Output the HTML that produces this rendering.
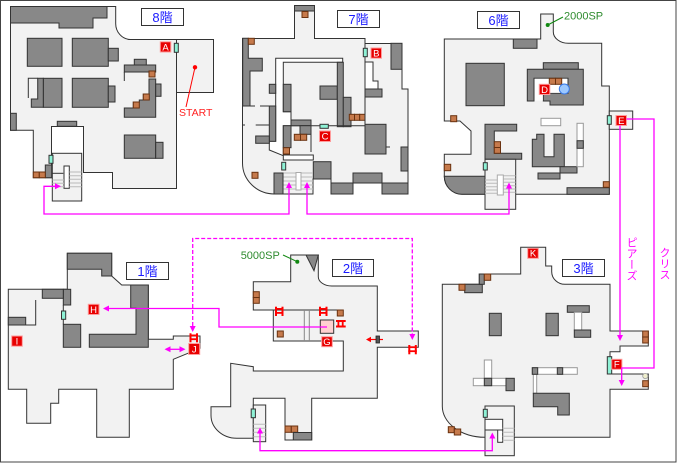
<!DOCTYPE html>
<html><head><meta charset="utf-8"><style>
html,body{margin:0;padding:0;background:#fff;}
#wrap{position:relative;width:679px;height:463px;overflow:hidden;}
svg{position:absolute;left:0;top:0;}
.f{fill:#f2f2f2;stroke:#333;stroke-width:1}
.g{fill:#888;stroke:#333;stroke-width:1}
.b{fill:#c67a4c;stroke:#6a3210;stroke-width:1}
.t{fill:#8ff2d6;stroke:#333;stroke-width:1}
.w{fill:#fff;stroke:#333;stroke-width:1}
.lw{fill:#fff;stroke:#999;stroke-width:1}
.s{stroke:#bbb;stroke-width:1;fill:none}
.m{stroke:#f0f;stroke-width:1.3;fill:none}
.md{stroke:#f0f;stroke-width:1.3;fill:none;stroke-dasharray:4 2}
.ma{fill:#f0f}
.lb{fill:#e80000;stroke:#ff9c9c;stroke-width:1}
.lt{fill:#fff;font:9.5px "Liberation Sans",sans-serif;text-anchor:middle}
.fl{fill:#fff;stroke:#333;stroke-width:1}
.ft{fill:#1a1aff;font:13px "Liberation Sans","Noto Sans CJK JP",sans-serif;text-anchor:middle}
.ln{stroke:#333;stroke-width:1;fill:none}
.rd{fill:#f00}
.vt{position:absolute;writing-mode:vertical-rl;color:#f0f;font:11px "Liberation Sans","Noto Sans CJK JP",sans-serif;line-height:12px;}
</style></head><body><div id="wrap">
<svg width="679" height="463" viewBox="0 0 679 463" xmlns="http://www.w3.org/2000/svg">
<rect x="0.5" y="0.5" width="675.5" height="461.5" fill="#fff" stroke="#444" stroke-width="1"/>

<!-- ================= 8階 ================= -->
<path class="f" d="M10.5,6.5 H115.7 V23 A15,16 0 0 0 130.5,39.5 H176.5 V188.5 H112.5 V172.5 H83.5 V126.5 H51.5 V177.7 H33.3 V130.3 H10.5 Z"/>
<rect class="f" x="176.5" y="39.5" width="37" height="53"/>
<rect class="f" x="52.3" y="153.3" width="29.4" height="47.7"/>
<rect class="w" x="64" y="166" width="5.3" height="22.3"/>
<path class="s" d="M69.3,172H81.7M69.3,175.7H81.7M69.3,179.3H81.7M69.3,183H81.7M69.3,186.7H81.7M52.3,180H64M52.3,183.3H64M52.3,186.7H64"/>
<path class="ln" d="M52.3,173.3H63.3"/>
<polygon class="g" points="10.5,6.5 107,6.5 107,18 93,18 93,28 59,28 59,23 10.5,23"/>
<rect class="g" x="27.3" y="38.3" width="34.7" height="28"/>
<rect class="g" x="72.3" y="38.3" width="36" height="28"/>
<rect class="g" x="108.3" y="48.3" width="10" height="12.7"/>
<rect class="g" x="43.3" y="78.3" width="18.7" height="29"/>
<polygon class="g" points="37.7,78.3 43.3,78.3 43.3,107.3 31.3,107.3 31.3,99 37.7,99"/>
<path class="ln" d="M28.3,98V78.3H37.7"/>
<rect class="g" x="72.3" y="78.3" width="36" height="29"/>
<rect class="g" x="108.3" y="86" width="6.7" height="16"/>
<rect class="g" x="124.3" y="65" width="31.4" height="7"/>
<rect class="g" x="134.3" y="59.3" width="12" height="5.7"/>
<polygon class="g" points="124.3,108 133.3,108 133.3,102 139.3,102 139.3,100 143.3,100 143.3,94 149,94 149,79 155.7,79 155.7,117.3 124.3,117.3"/>
<rect class="g" x="155.7" y="84" width="5.3" height="12.3"/>
<path class="ln" d="M124.3,72V81"/>
<rect class="b" x="149" y="71" width="6" height="6"/>
<rect class="b" x="143.3" y="94" width="6" height="6"/>
<rect class="b" x="133.3" y="102" width="6" height="6"/>
<rect class="g" x="124.3" y="135" width="31.4" height="23.3"/>
<rect class="g" x="155.7" y="142.3" width="7.3" height="16"/>
<rect class="g" x="10.5" y="113.3" width="5.8" height="17"/>
<rect class="g" x="57.3" y="121.3" width="19.4" height="5"/>
<rect class="g" x="45.3" y="165" width="6.4" height="12.7"/>
<rect class="b" x="33.3" y="172" width="6" height="5.7"/>
<rect class="b" x="39.3" y="172" width="6" height="5.7"/>
<rect class="t" x="49" y="155.3" width="4" height="8"/>
<rect class="t" x="174.3" y="43.3" width="4" height="9"/>
<rect class="lb" x="160.3" y="41.8" width="10.5" height="10.2"/><text class="lt" x="165.6" y="50.3">A</text>
<circle class="rd" cx="195" cy="67.3" r="2.2"/>
<path d="M195,67.3 L186,107" stroke="#f00" stroke-width="1"/>
<text x="179" y="116" fill="#ff2222" font-family="Liberation Sans, sans-serif" font-size="10.5">START</text>
<rect class="fl" x="141.5" y="8.5" width="42" height="17"/><text class="ft" x="162.5" y="22">8階</text>

<!-- ================= 7階 ================= -->
<path class="f" d="M242.5,38.5 H294.5 V5.5 H314.5 V38.5 H365 V43.5 H402 V89 H408 V194 H382 V183 H353 V194 H331 V179 H313 V194 H274 A32,31 0 0 1 242.5,163 Z"/>
<rect class="g" x="294.5" y="5.5" width="20" height="5.5"/>
<rect class="b" x="302" y="11.5" width="6" height="6"/>
<polygon class="w" points="275.7,58.3 342.7,58.3 342.7,62.3 283.3,62.3 283.3,111.7 291,111.7 291,125.7 283.3,125.7 283.3,155 313.3,155 313.3,160 283.3,160 283.3,155.7 269.3,150 269.3,141.3 275.7,141.3"/>
<polygon class="w" points="365,62 373,62 373,81 378,81 378,89 365,89"/>
<polygon class="g" points="242.7,38.3 248.3,38.3 248.3,58.3 262.3,58.3 262.3,71 250,71 250,106 242.7,106"/>
<rect class="b" x="248.3" y="38.3" width="6" height="6"/>
<rect class="g" x="269.3" y="84.3" width="6.4" height="9"/>
<rect class="g" x="283.3" y="84.3" width="7.7" height="27.4"/>
<rect class="g" x="320" y="86" width="17.3" height="13.3"/>
<rect class="g" x="337.3" y="62.3" width="6" height="64.4"/>
<rect class="g" x="343.3" y="97.3" width="7.7" height="29.4"/>
<rect class="b" x="349.3" y="114.3" width="5.2" height="6"/>
<rect class="b" x="354.5" y="114.3" width="5.2" height="6"/>
<rect class="b" x="359.7" y="114.3" width="5.3" height="6"/>
<path class="ln" d="M291,125.7H365M365,43.5V124.3M311,125.7V152M242.7,106H255M260,106H275.7M242.7,125H245M255.7,125H269.3M386,147H390"/>
<rect class="g" x="269.3" y="106" width="6.4" height="35.3"/>
<rect class="g" x="255.7" y="136" width="13.6" height="7.3"/>
<rect class="g" x="291" y="120" width="20" height="5.7"/>
<rect class="g" x="300" y="125.7" width="11" height="8.6"/>
<rect class="b" x="294.3" y="134.3" width="6.2" height="6"/>
<rect class="b" x="300.5" y="134.3" width="6.2" height="6"/>
<rect class="g" x="283.3" y="125.7" width="7.7" height="22"/>
<rect class="b" x="283.3" y="147.7" width="6.2" height="6.3"/>
<rect class="b" x="252" y="172.3" width="6" height="6"/>
<rect class="g" x="313.3" y="161.7" width="17.7" height="17.3"/>
<rect class="g" x="331" y="183" width="22" height="11"/>
<rect class="g" x="353" y="173" width="29" height="10"/>
<rect class="g" x="382" y="183" width="26" height="11"/>
<rect class="g" x="274" y="173" width="9" height="21"/>
<rect class="g" x="391" y="43.3" width="11" height="26"/>
<rect class="g" x="365" y="89" width="17" height="8"/>
<rect class="g" x="365" y="124.3" width="21" height="29.7"/>
<rect class="g" x="401" y="147" width="7" height="24"/>
<path class="s" d="M283.5,173H296M283.5,177H296M283.5,181H296M283.5,185H296M283.5,189H296M301,173H313M301,177H313M301,181H313M301,185H313M301,189H313"/>
<rect x="296" y="172.5" width="5" height="17.5" fill="#fff" stroke="#aaa"/>
<rect class="t" x="363.3" y="48.3" width="4" height="8.4"/>
<rect class="t" x="320" y="124.3" width="8.3" height="4"/>
<rect class="t" x="281.7" y="162.3" width="4" height="7.7"/>
<rect class="lb" x="371" y="48" width="10.5" height="10.2"/><text class="lt" x="376.3" y="56.5">B</text>
<rect class="lb" x="319.5" y="131" width="11" height="10.5"/><text class="lt" x="325" y="139.7">C</text>
<rect class="fl" x="337.5" y="10.5" width="42" height="17"/><text class="ft" x="358.5" y="24">7階</text>

<!-- ================= 6階 ================= -->
<path class="f" d="M444.3,39 H540.7 V14 H553.3 V31.7 A15,11.5 0 0 0 568.3,43.3 H601.7 V86 H609.3 V194.3 H462 A18,18 0 0 1 444.3,176.3 V154.3 H471 V131 L460,121 H444.3 Z"/>
<path class="g" d="M444.3,176.3 H485 V194.3 H462 A18,18 0 0 1 444.3,176.3 Z"/>
<rect class="g" x="513.3" y="39" width="23.7" height="9.3"/>
<rect class="g" x="466" y="63.3" width="38.3" height="42.4"/>
<rect class="g" x="543.3" y="62.7" width="35" height="6.6"/>
<polygon class="g" points="527.3,69.3 583.3,69.3 583.3,105 550,105 550,101 543.3,101 543.3,93.3 568,93.3 568,78.3 534,78.3 534,101 527.3,101"/>
<rect x="534.5" y="78.8" width="33" height="14" fill="#fff"/>
<rect x="534.5" y="92" width="8.3" height="8.5" fill="#fff"/>
<rect class="b" x="549.3" y="78.3" width="6.2" height="6"/>
<rect class="b" x="555.5" y="78.3" width="6.2" height="6"/>
<circle cx="564.3" cy="89" r="5" fill="#9cc8ff" stroke="#3a7ae8" stroke-width="1"/>
<rect class="lb" x="539.3" y="84.3" width="10.5" height="10.2"/><text class="lt" x="544.6" y="92.8">D</text>
<polygon class="g" points="485,124.3 516.7,124.3 516.7,131 494.3,131 494.3,153.3 521.7,153.3 521.7,159.3 485,159.3"/>
<rect class="b" x="494.3" y="141.7" width="6.2" height="5.8"/>
<rect class="b" x="494.3" y="147.5" width="6.2" height="5.8"/>
<polygon class="g" points="536.7,134.3 544,134.3 544,156.7 554,156.7 554,134.3 564.3,134.3 564.3,166.7 532.3,166.7 532.3,139.3 536.7,139.3"/>
<rect class="g" x="560" y="166.7" width="17" height="6.3"/>
<rect class="g" x="538" y="173" width="22" height="6"/>
<rect class="lw" x="541" y="118.3" width="19.7" height="7.4"/>
<rect class="lw" x="577" y="123.3" width="6.3" height="43.4"/>
<rect class="g" x="577" y="140.7" width="6.3" height="7.6"/>
<rect class="g" x="567" y="187.7" width="42.3" height="6.6"/>
<rect class="b" x="603.3" y="181.7" width="6" height="5.6"/>
<rect class="b" x="450.7" y="115.7" width="6" height="6"/>
<rect class="b" x="444.3" y="164.3" width="6.4" height="6.4"/>
<rect class="f" x="485" y="159.3" width="30.7" height="50"/>
<path class="s" d="M485,180H497.3M485,183.3H497.3M485,186.7H497.3M485,190H497.3M485,193.3H497.3M503.3,175.7H515.7M503.3,179H515.7M503.3,182.3H515.7M503.3,185.7H515.7M503.3,189H515.7M503.3,192.3H515.7"/>
<rect x="497.3" y="175" width="6" height="20" fill="#fff" stroke="#aaa"/>
<rect class="t" x="483.3" y="162.7" width="4" height="7.3"/>
<rect class="f" x="609.3" y="111" width="23.4" height="18.3"/>
<rect class="t" x="607.3" y="115.7" width="4" height="8.6"/>
<rect class="lb" x="616" y="115.5" width="10.5" height="10"/><text class="lt" x="621.3" y="123.8">E</text>
<circle cx="547.7" cy="25" r="2" fill="#118811"/>
<path d="M547.7,25 L563,17" stroke="#118811" stroke-width="1"/>
<text x="564" y="19.5" fill="#2e8b2e" font-family="Liberation Sans, sans-serif" font-size="11">2000SP</text>
<rect class="fl" x="477.5" y="11.5" width="42" height="17"/><text class="ft" x="498.5" y="25">6階</text>

<!-- ================= 1階 ================= -->
<path class="f" d="M8.3,289.3 H67.3 V253.3 H111.7 V276 L121.7,285 H148.3 V339.3 H173.3 V336 H200 V348.3 L173.3,359.3 V389.3 H129.3 V437.3 H96.7 V389.3 H58.7 V403.3 H50.7 V423.3 H26.7 V389.3 H8.3 Z"/>
<polygon class="g" points="67.3,253.3 111.7,253.3 111.7,276 101.7,276 101.7,269.3 67.3,269.3"/>
<polygon class="g" points="130.7,285 148.3,285 148.3,347.3 89.3,347.3 89.3,334.3 136,334.3 136,308.3 130.7,308.3"/>
<rect class="g" x="63.3" y="324.3" width="17.4" height="23"/>
<rect class="g" x="63.3" y="289.3" width="7.4" height="15.7"/>
<rect class="g" x="42.3" y="289.3" width="21" height="9"/>
<rect class="g" x="8.3" y="317.3" width="17.4" height="7.7"/>
<path class="ln" d="M25.7,325H35.7V300M63.3,305V324.3"/>
<rect class="t" x="61.5" y="311" width="4.2" height="8.3"/>
<rect class="lb" x="88.3" y="304.3" width="10.7" height="10.2"/><text class="lt" x="93.6" y="312.8">H</text>
<rect class="lb" x="11.7" y="336" width="10.6" height="10.2"/><text class="lt" x="17" y="344.5">I</text>
<rect class="lb" x="188.7" y="343.5" width="11" height="11"/><text class="lt" x="194.2" y="352.5">J</text>
<g class="rd"><rect x="189.5" y="333.3" width="2" height="9"/><rect x="196" y="333.3" width="2" height="9"/><rect x="189.5" y="334.5" width="8.5" height="1.8"/><rect x="189.5" y="338.3" width="8.5" height="1.8"/></g>
<rect class="fl" x="126.5" y="262.5" width="42" height="17"/><text class="ft" x="147.5" y="276">1階</text>

<!-- ================= 2階 ================= -->
<path class="f" d="M253.3,281.7 H290.7 V255 H318.3 V276.7 A13.4,9.3 0 0 0 331.7,286 H377.3 V331 H418.3 V347.3 H377.3 V398.3 H311.7 V440 H285 V398.3 H253.3 V438.3 H236.7 A26,23 0 0 1 211,415 V406.7 H230.7 V363.3 L253.3,366.7 V371 H343.3 V341 H273.3 V310 H253.3 Z"/>
<polygon class="g" points="306,255 318.3,255 314,270.7"/>
<path class="ln" d="M273.3,310H343.3"/>
<path d="M304.3,310V341M309.3,310V341" stroke="#888" stroke-width="1"/>
<rect x="320.3" y="320" width="13.4" height="13.3" fill="#ffd0d0" stroke="#333"/>
<rect class="b" x="253.3" y="291.7" width="6" height="5.8"/>
<rect class="b" x="253.3" y="297.5" width="6" height="5.8"/>
<rect class="b" x="337.3" y="310" width="6" height="6"/>
<rect class="b" x="277.3" y="331" width="6" height="6"/>
<g class="rd">
<rect x="275" y="306.7" width="2" height="9.3"/><rect x="281.5" y="306.7" width="2" height="9.3"/><rect x="275" y="308" width="8.5" height="1.8"/><rect x="275" y="312" width="8.5" height="1.8"/>
<rect x="319" y="306.7" width="2" height="9.3"/><rect x="325.5" y="306.7" width="2" height="9.3"/><rect x="319" y="308" width="8.5" height="1.8"/><rect x="319" y="312" width="8.5" height="1.8"/>
<rect x="336" y="320" width="9.7" height="2"/><rect x="336" y="325.5" width="9.7" height="2"/><rect x="337.5" y="320" width="1.8" height="7.5"/><rect x="341.8" y="320" width="1.8" height="7.5"/>
<rect x="408.3" y="345" width="2" height="9.3"/><rect x="414.8" y="345" width="2" height="9.3"/><rect x="408.3" y="346.3" width="8.5" height="1.8"/><rect x="408.3" y="350.3" width="8.5" height="1.8"/>
</g>
<path d="M370,339.5H383" stroke="#f00" stroke-width="1.2"/>
<polygon class="rd" points="366,339.5 371,336.8 371,342.2"/>
<rect x="376" y="336" width="3.5" height="7" fill="#555" stroke="#222" stroke-width="0.8"/>
<rect class="lb" x="321.7" y="336.7" width="10.6" height="10"/><text class="lt" x="327" y="345">G</text>
<rect class="f" x="253.3" y="405" width="12.4" height="36.7"/>
<path class="s" d="M253.3,424.3H265.7M253.3,428.3H265.7M253.3,432.3H265.7M253.3,436.7H265.7"/>
<rect class="t" x="251.2" y="409" width="4.2" height="8.7"/>
<rect class="b" x="285" y="426" width="6.3" height="6.3"/>
<rect class="b" x="291.3" y="426" width="6.4" height="6.3"/>
<rect class="g" x="293.3" y="432.5" width="18.4" height="7.5"/>
<text x="240.7" y="259" fill="#2e8b2e" font-family="Liberation Sans, sans-serif" font-size="11">5000SP</text>
<path d="M283,255 L297.3,261.7" stroke="#118811" stroke-width="1"/>
<circle cx="297.3" cy="261.7" r="2" fill="#118811"/>
<rect class="fl" x="332.5" y="259.5" width="41" height="17"/><text class="ft" x="353" y="273">2階</text>

<!-- ================= 3階 ================= -->
<path class="f" d="M442.3,284.3 H479.3 V274 H520.7 V247.3 H545.7 V266 H551.7 V271.7 A13.3,12.7 0 0 0 565,284.3 H610 V331 H648.3 V346 H620 V351.7 H610 V374 H648.3 V389.3 H610 V437.3 H485 A43,31 0 0 1 442.3,406 Z"/>
<rect class="g" x="464.7" y="284.3" width="17.6" height="8.4"/>
<rect class="g" x="479.3" y="274" width="5" height="10.3"/>
<rect class="b" x="459" y="284.3" width="6" height="6"/>
<rect class="b" x="484.3" y="274" width="6.4" height="6.3"/>
<rect class="g" x="489.3" y="313.3" width="12" height="22.4"/>
<rect class="g" x="546" y="313.3" width="12.3" height="22.4"/>
<rect class="g" x="567.3" y="305.7" width="22" height="6.6"/>
<rect class="lw" x="574.3" y="312.3" width="7.4" height="17.7"/>
<rect class="g" x="574.3" y="330" width="16.4" height="7.3"/>
<rect class="lw" x="484.3" y="360" width="7.4" height="18.3"/>
<rect class="lw" x="473.3" y="378.3" width="32.7" height="7.4"/>
<rect class="g" x="484.3" y="378.3" width="7.4" height="7.4"/>
<rect class="g" x="506" y="378.3" width="8.3" height="12.4"/>
<rect class="lw" x="532.3" y="367.7" width="45" height="6.6"/>
<rect class="lw" x="533.3" y="374.3" width="3.4" height="19"/>
<rect class="g" x="532.3" y="367.7" width="5.4" height="6.6"/>
<rect class="g" x="557.3" y="367.7" width="5.4" height="6.6"/>
<polygon class="g" points="533.3,393.3 569.3,393.3 569.3,415 557.7,415 557.7,406.7 533.3,406.7"/>
<rect class="b" x="448.3" y="426.7" width="6" height="6"/>
<rect class="b" x="454.3" y="429" width="6.4" height="6"/>
<rect class="b" x="642.7" y="331" width="5.6" height="6"/>
<rect class="b" x="642.7" y="337" width="5.6" height="6"/>
<rect class="b" x="642.7" y="380.7" width="5.6" height="6"/>
<circle cx="645.3" cy="376" r="2.6" fill="#eeeecc" stroke="#999" stroke-width="0.8"/>
<rect class="f" x="485" y="406" width="29.3" height="49.7"/>
<rect x="485" y="419.3" width="17.7" height="10.7" fill="#fff" stroke="#333"/>
<rect x="497.7" y="430" width="5" height="12.3" fill="#fff" stroke="#333"/>
<path class="s" d="M502.7,428.3H514.3M502.7,432.3H514.3M502.7,436.3H514.3M502.7,440.3H514.3"/>
<rect class="t" x="483.3" y="409.3" width="4" height="8"/>
<rect class="t" x="607.3" y="356.7" width="4.4" height="17.3"/>
<rect class="lb" x="611.7" y="359.3" width="10.2" height="10"/><text class="lt" x="616.8" y="367.7">F</text>
<rect class="lb" x="527.7" y="248.3" width="10.6" height="10"/><text class="lt" x="533" y="256.7">K</text>
<rect class="fl" x="562.5" y="259.5" width="42" height="17"/><text class="ft" x="583.5" y="273">3階</text>

<!-- ================= connectors ================= -->
<path class="m" d="M57,186.3 H44 V214 H289 V188"/>
<polygon class="ma" points="61,186.3 55,183.3 55,189.3"/>
<polygon class="ma" points="289,182 286,188 292,188"/>
<path class="m" d="M307,188 V214 H509 V188"/>
<polygon class="ma" points="307,182 304,188 310,188"/>
<polygon class="ma" points="509,182.5 506,188.5 512,188.5"/>
<path class="m" d="M620,125.5 V335"/>
<polygon class="ma" points="620,341 617,335 623,335"/>
<path class="m" d="M626.5,119 H654 V368 H621.7 V380"/>
<polygon class="ma" points="621.7,386 618.7,380 624.7,380"/>
<path class="m" d="M109,308.5 H219 V327 H327"/>
<polygon class="ma" points="103,308.5 109,305.5 109,311.5"/>
<path class="m" d="M170,349.3 H180"/>
<polygon class="ma" points="164.5,349.3 170.5,346.3 170.5,352.3"/>
<polygon class="ma" points="185.5,349.3 179.5,346.3 179.5,352.3"/>
<path class="md" d="M192.7,326 V238.5 H412.3 V334"/>
<polygon class="ma" points="192.7,332 189.7,326 195.7,326"/>
<polygon class="ma" points="412.3,340 409.3,334 415.3,334"/>
<path class="m" d="M260,433 V450.7 H492.3 V438"/>
<polygon class="ma" points="260,427.5 257,433.5 263,433.5"/>
<polygon class="ma" points="492.3,432.5 489.3,438.5 495.3,438.5"/>
</svg>
<div class="vt" style="left:625px;top:237px;">ピアーズ</div>
<div class="vt" style="left:658px;top:247px;">クリス</div>
</div></body></html>
